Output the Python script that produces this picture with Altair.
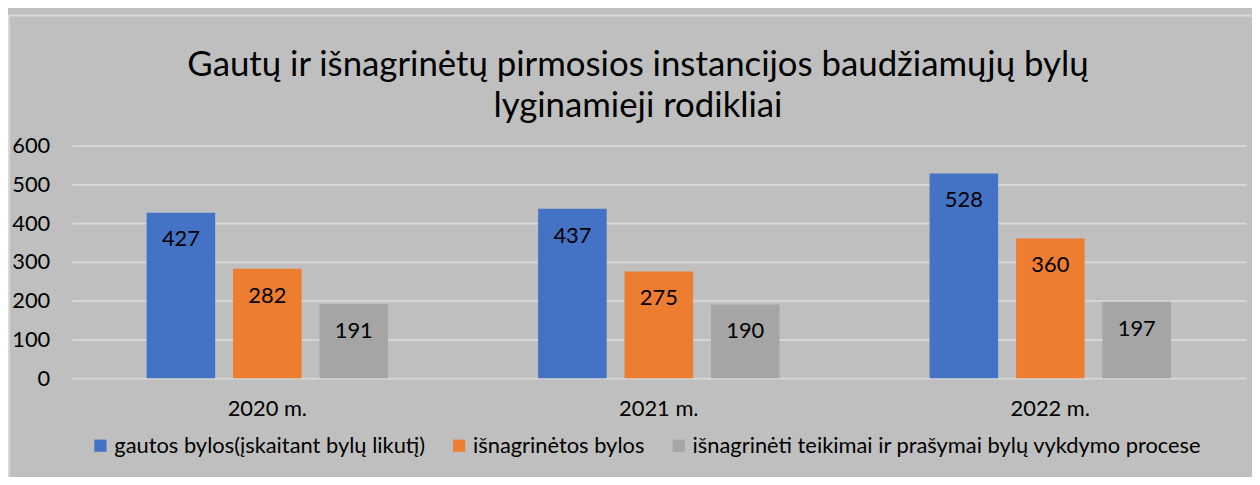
import altair as alt
import pandas as pd

years = ["2020 m.", "2021 m.", "2022 m."]
series = [
    "gautos bylos(įskaitant bylų likutį)",
    "išnagrinėtos bylos",
    "išnagrinėti teikimai ir prašymai bylų vykdymo procese",
]
gautos = [427, 437, 528]
isnagrinetos = [282, 275, 360]
teikimai = [191, 190, 197]
colors = ["#4472C4", "#ED7D31", "#A5A5A5"]
y_ticks = [0, 100, 200, 300, 400, 500, 600]
title_lines = ["Gautų ir išnagrinėtų pirmosios instancijos baudžiamųjų bylų", "lyginamieji rodikliai"]

rows = []
for i, yr in enumerate(years):
    for s, vals in zip(series, [gautos, isnagrinetos, teikimai]):
        rows.append({"year": yr, "series": s, "value": vals[i]})
df = pd.DataFrame(rows)

FONT = "Lato"
FS = 22

x = alt.X(
    "year:N",
    sort=years,
    scale=alt.Scale(paddingInner=0, paddingOuter=0),
    axis=alt.Axis(title=None, labelAngle=0, ticks=False, domain=False, labelPadding=21,
                  labelFontSize=FS, labelColor="black", labelFont=FONT, grid=False),
)
xo = alt.XOffset("series:N", sort=series, scale=alt.Scale(paddingInner=0.207, paddingOuter=0.868))
y = alt.Y(
    "value:Q",
    scale=alt.Scale(domain=[0, 600], nice=False),
    axis=alt.Axis(title=None, values=y_ticks, ticks=False, domain=False, labelPadding=22,
                  labelFontSize=FS, labelColor="black", labelFont=FONT, labelOverlap=False,
                  grid=True, gridColor="#D9D9D9", gridWidth=2),
)
color = alt.Color(
    "series:N",
    sort=series,
    scale=alt.Scale(domain=series, range=colors),
    legend=alt.Legend(
        title=None, orient="none", legendX=18, legendY=291, direction="horizontal",
        symbolType="square", symbolSize=150, symbolStrokeWidth=0, labelFontSize=22,
        labelFont=FONT, labelColor="black", labelLimit=800, columnPadding=23, labelOffset=3,
    ),
)

base = alt.Chart(df)
bars = base.mark_bar().encode(x=x, xOffset=xo, y=y, color=color)
labels = base.mark_text(dy=27, fontSize=FS, font=FONT, color="black").encode(
    x=x, xOffset=xo, y=y, text="value:Q"
)
one = pd.DataFrame({"a": [0]})
frame = alt.Chart(one).mark_rect(
    fill=None, fillOpacity=0, stroke="#D9D9D9", strokeWidth=2
).encode(x=alt.value(-63), x2=alt.value(1260), y=alt.value(-131), y2=alt.value(500))
title1 = alt.Chart(one).mark_text(fontSize=35, font=FONT, color="black", align="center",
                                  baseline="middle").encode(
    x=alt.value(570), y=alt.value(-81), text=alt.value(title_lines[0]))
title2 = alt.Chart(one).mark_text(fontSize=35, font=FONT, color="black", align="center",
                                  baseline="middle").encode(
    x=alt.value(570), y=alt.value(-40), text=alt.value(title_lines[1]))

chart = alt.layer(frame, bars, labels, title1, title2).properties(
    width=1182,
    height=234,
    autosize=alt.AutoSizeParams(type="none"),
    padding={"left": 64, "top": 137, "right": 6, "bottom": 98},
    background="#BFBFBF",
).configure_view(stroke=None)

chart.save("out.html", embed_options={"renderer": "svg", "actions": False})
